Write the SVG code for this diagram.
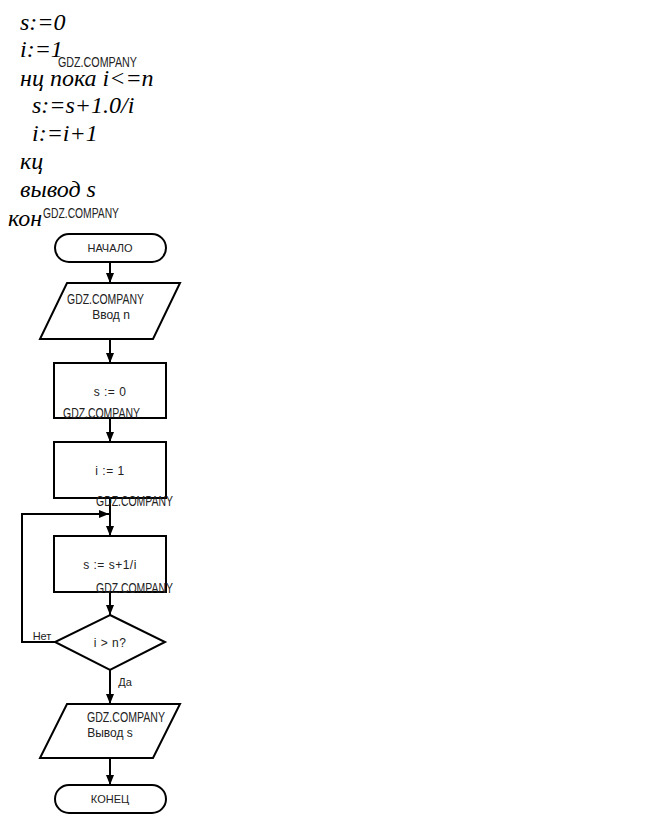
<svg xmlns="http://www.w3.org/2000/svg" width="658" height="826" viewBox="0 0 658 826">
<defs>
<marker id="arr" markerUnits="userSpaceOnUse" markerWidth="11" markerHeight="8" refX="10" refY="4" orient="auto">
<path d="M0,0 L10,4 L0,8 Z" fill="#000"/>
</marker>
<style>
.prog{font-family:"Liberation Serif","Times New Roman",serif;font-style:italic;font-size:24px;fill:#000}
.wm{font-family:"Liberation Sans",Arial,sans-serif;font-size:15px;fill:#222}
.lbl{font-family:"Liberation Sans",Arial,sans-serif;font-size:12px;fill:#222;text-anchor:middle}
.term{font-family:"Liberation Sans",Arial,sans-serif;font-size:11px;fill:#222;text-anchor:middle}
.op{letter-spacing:0.5px}
.shape{fill:#fff;stroke:#000;stroke-width:2}
.conn{fill:none;stroke:#000;stroke-width:2}
</style>
</defs>
<rect x="0" y="0" width="658" height="826" fill="#fff"/>
<g id="program">
<text class="prog" x="20" y="30">s:=0</text>
<text class="prog" x="20" y="57">i:=1</text>
<text class="prog" x="20" y="86">нц пока i&lt;=n</text>
<text class="prog" x="32" y="113">s:=s+1.0/i</text>
<text class="prog" x="32" y="141">i:=i+1</text>
<text class="prog" x="20" y="169">кц</text>
<text class="prog" x="20" y="197">вывод s</text>
<text class="prog" x="8" y="226">кон</text>
</g>
<g id="connectors">
<line class="conn" x1="110" y1="262" x2="110" y2="283" marker-end="url(#arr)"/>
<line class="conn" x1="110" y1="339" x2="110" y2="363" marker-end="url(#arr)"/>
<line class="conn" x1="110" y1="418" x2="110" y2="442" marker-end="url(#arr)"/>
<line class="conn" x1="110" y1="498" x2="110" y2="536" marker-end="url(#arr)"/>
<line class="conn" x1="110" y1="592" x2="110" y2="615" marker-end="url(#arr)"/>
<polyline class="conn" points="55,642 22,642 22,514 109,514" marker-end="url(#arr)"/>
<line class="conn" x1="110" y1="670" x2="110" y2="704" marker-end="url(#arr)"/>
<line class="conn" x1="110" y1="758" x2="110" y2="785" marker-end="url(#arr)"/>
<text class="term" x="42" y="640">Нет</text>
<text class="term" x="125" y="686">Да</text>
</g>
<g id="start">
<rect class="shape" x="55" y="234" width="111" height="28" rx="14"/>
<text class="term" x="110" y="252">НАЧАЛО</text>
</g>
<g id="input">
<polygon class="shape" points="67,283 180,283 153,339 40,339"/>
<text class="lbl" x="111" y="319">Ввод n</text>
</g>
<g id="assign-s">
<rect class="shape" x="54" y="363" width="112" height="55"/>
<text class="lbl op" x="110" y="396">s := 0</text>
</g>
<g id="assign-i">
<rect class="shape" x="54" y="442" width="112" height="56"/>
<text class="lbl op" x="110" y="475">i := 1</text>
</g>
<g id="sum">
<rect class="shape" x="54" y="536" width="112" height="56"/>
<text class="lbl op" x="110" y="569">s := s+1/i</text>
</g>
<g id="cond">
<polygon class="shape" points="110,615 165,642 110,670 55,642"/>
<text class="lbl op" x="110" y="647">i &gt; n?</text>
</g>
<g id="output">
<polygon class="shape" points="67,704 180,704 153,758 40,758"/>
<text class="lbl" x="110" y="737">Вывод s</text>
</g>
<g id="end">
<rect class="shape" x="55" y="785" width="111" height="28" rx="14"/>
<text class="term" x="110" y="803">КОНЕЦ</text>
</g>
<g id="watermarks">
<text class="wm" x="58" y="67" font-size="13" textLength="79" lengthAdjust="spacingAndGlyphs">GDZ.COMPANY</text>
<text class="wm" x="43" y="218" textLength="76" lengthAdjust="spacingAndGlyphs">GDZ.COMPANY</text>
<text class="wm" x="67" y="304" font-size="14" textLength="77" lengthAdjust="spacingAndGlyphs">GDZ.COMPANY</text>
<text class="wm" x="63" y="418" textLength="77" lengthAdjust="spacingAndGlyphs">GDZ.COMPANY</text>
<text class="wm" x="96" y="506" textLength="77" lengthAdjust="spacingAndGlyphs">GDZ.COMPANY</text>
<text class="wm" x="96" y="593" textLength="77" lengthAdjust="spacingAndGlyphs">GDZ.COMPANY</text>
<text class="wm" x="87" y="722" textLength="78" lengthAdjust="spacingAndGlyphs">GDZ.COMPANY</text>
</g>
</svg>
